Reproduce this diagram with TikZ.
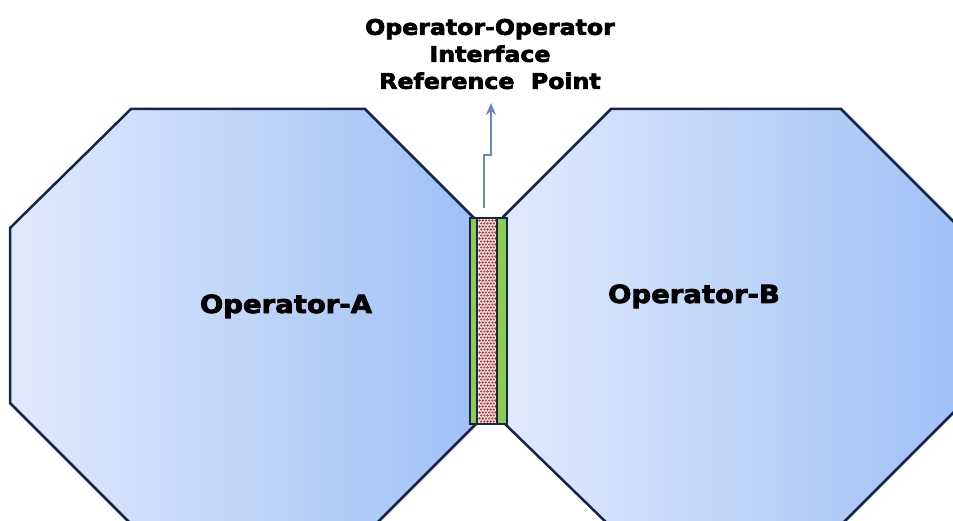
\documentclass[tikz,border=0pt]{standalone}
\usepackage{fontspec}
\usetikzlibrary{arrows.meta}
\newfontfamily\opfont{DejaVu Sans}[FakeStretch=1.1, FakeBold=3]
\definecolor{edgeblue}{RGB}{22,36,72}
\definecolor{shadeleft}{RGB}{224,234,252}
\definecolor{shaderight}{RGB}{160,192,246}
\definecolor{stripgreen}{RGB}{140,204,78}
\definecolor{dotpink}{RGB}{248,232,232}
\definecolor{dotred}{RGB}{170,66,60}
\definecolor{arrowblue}{RGB}{104,136,184}
\tikzset{
  octagon/.style={draw=edgeblue, line width=2.5pt, left color=shadeleft, right color=shaderight},
  oplabel/.style={font=\opfont\bfseries\fontsize{25}{30}\selectfont, anchor=base},
  pointer/.style={draw=arrowblue, line width=2pt, -{Stealth[length=12pt, width=10pt]}}
}
\begin{document}
\begin{tikzpicture}[x=1pt, y=-1pt]
    \useasboundingbox (0, 0) rectangle (953, 521);
    % the two operator domains
    \path[octagon] (131, 109) -- (365, 109) -- (474, 218) -- (476, 424) -- (372, 528)
      -- (135, 528) -- (10, 403) -- (10, 228) -- cycle;
    \path[octagon] (611, 109) -- (841, 109) -- (958, 226) -- (958, 408) -- (838, 528)
      -- (612, 528) -- (505, 424) -- (503, 217) -- cycle;
    % interface strip
    \draw[edgeblue, line width=2.6pt, fill=stripgreen] (470, 218) rectangle (507, 424);
    \fill[dotpink] (477, 218) rectangle (497, 424);
    \foreach \row in {0,...,67} {
      \pgfmathsetmacro{\shift}{mod(\row,2)*1.6}
      \foreach \col in {0,...,5}
        \fill[dotred] (479.5 + \col*3.2 + \shift, 220.5 + \row*3) circle (1.3pt);
    }
    \draw[edgeblue, line width=2pt] (477, 218) rectangle (497, 424);
    \node[oplabel] (opA) at (286, 313) {Operator-A};
    \node[oplabel] (opB) at (694, 303) {Operator-B};
    \node[font=\opfont\bfseries\fontsize{21.5}{27}\selectfont, align=center] (refpoint) at (490, 54)
      {Operator-Operator\\Interface\\Reference\ \ Point};

    \coordinate (tail) at (484, 208);
    \coordinate (tip) at (491, 103);
    \draw[pointer] (tail) -- (484, 155) -- (491, 155) -- (tip);
  \end{tikzpicture}
\end{document}
